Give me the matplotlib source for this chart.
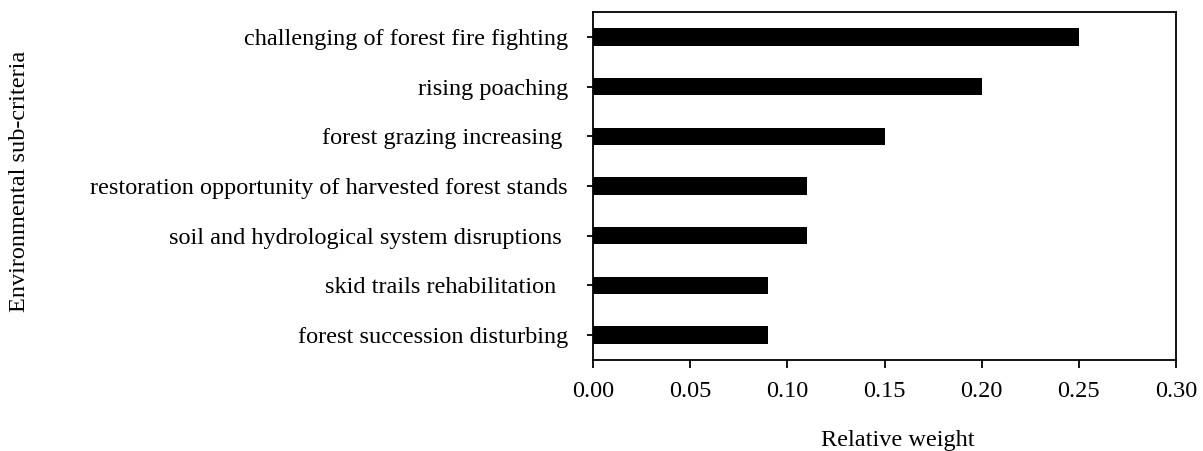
import matplotlib
matplotlib.use('Agg')
import matplotlib.pyplot as plt
import numpy as np

plt.rcParams['font.family'] = ['Liberation Serif', 'DejaVu Serif']

# Data (top to bottom)
categories = ['challenging of forest fire fighting',
              'rising poaching',
              'forest grazing increasing ',
              'restoration opportunity of harvested forest stands',
              'soil and hydrological system disruptions ',
              'skid trails rehabilitation  ',
              'forest succession disturbing']
weights = [0.25, 0.20, 0.15, 0.11, 0.11, 0.09, 0.09]
x_ticks = [0.00, 0.05, 0.10, 0.15, 0.20, 0.25, 0.30]

fig = plt.figure(figsize=(12.03, 4.51), dpi=100)
ax = fig.add_axes([0.493, 0.2018, 0.9776 - 0.493, 0.9734 - 0.2018])

y_pos = np.arange(len(categories))
ax.barh(y_pos, weights, height=0.35, color='black')

ax.set_ylim(len(categories) - 0.5, -0.5)
ax.set_xlim(0, 0.30)
ax.set_yticks(y_pos)
ax.set_yticklabels(categories, fontsize=17.5)
ax.set_xticks(x_ticks)
ax.set_xticklabels(['{:.2f}'.format(t) for t in x_ticks], fontsize=17.5)

for spine in ax.spines.values():
    spine.set_linewidth(1.3)
ax.tick_params(axis='y', direction='out', length=4, width=1.3, pad=14)
ax.tick_params(axis='x', direction='out', length=6, width=1.3, pad=9)

ax.set_xlabel('Relative weight', fontsize=17.5)
ax.xaxis.set_label_coords(0.523, -0.2)
ax.set_ylabel('Environmental sub-criteria', fontsize=17.5)
ax.yaxis.set_label_coords(-0.966, 0.514)

fig.savefig('out.png', dpi=100)
